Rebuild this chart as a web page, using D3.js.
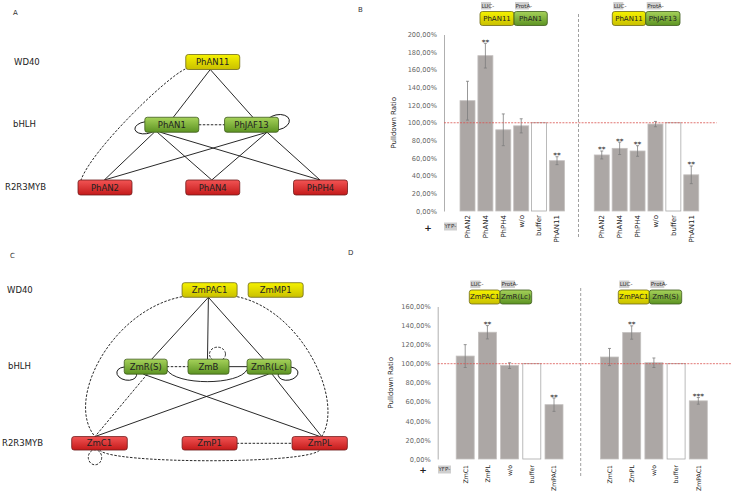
<!DOCTYPE html>
<html>
<head>
<meta charset="utf-8">
<script src="https://cdn.jsdelivr.net/npm/d3@7"></script>
<style>
  body { margin: 0; background: #fff; }
  text { font-family: "DejaVu Sans", sans-serif; }
</style>
</head>
<body>
<script>
// ---- data ----
// panel B (petunia pulldown)
const bLabels = ["PhAN2", "PhAN4", "PhPH4", "w/o", "buffer", "PhAN11"];
const bVals1 = [1.25, 1.76, 0.92, 0.965, 1.0, 0.57];
const bErr1  = [0.22, 0.14, 0.18, 0.08, 0, 0.045];
const bSig1  = ["", "**", "", "", "", "**"];
const bVals2 = [0.635, 0.71, 0.68, 0.985, 1.0, 0.41];
const bErr2  = [0.045, 0.07, 0.06, 0.03, 0, 0.10];
const bSig2  = ["**", "**", "**", "", "", "**"];
const bTicks = [0, 0.2, 0.4, 0.6, 0.8, 1.0, 1.2, 1.4, 1.6, 1.8, 2.0];

// panel D (maize pulldown)
const dLabels = ["ZmC1", "ZmPL", "w/o", "buffer", "ZmPAC1"];
const dVals1 = [1.08, 1.33, 0.98, 1.0, 0.57];
const dErr1  = [0.12, 0.07, 0.03, 0, 0.07];
const dSig1  = ["", "**", "", "", "**"];
const dVals2 = [1.07, 1.327, 1.01, 1.0, 0.61];
const dErr2  = [0.09, 0.07, 0.05, 0, 0.035];
const dSig2  = ["", "**", "", "", "***"];
const dTicks = [0, 0.2, 0.4, 0.6, 0.8, 1.0, 1.2, 1.4, 1.6];

// networks: tier 0 = WD40, 1 = bHLH, 2 = R2R3MYB; col = slot on the row
const tiers = ["WD40", "bHLH", "R2R3MYB"];
const aNodes = [
  { id: "PhAN11", tier: 0, col: 1, kind: "y" },
  { id: "PhAN1", tier: 1, col: 0.62, kind: "g" },
  { id: "PhJAF13", tier: 1, col: 1.36, kind: "g" },
  { id: "PhAN2", tier: 2, col: 0, kind: "r" },
  { id: "PhAN4", tier: 2, col: 1, kind: "r" },
  { id: "PhPH4", tier: 2, col: 2, kind: "r" }
];
const aEdges = [
  ["PhAN11", "PhAN1", "s"], ["PhAN11", "PhJAF13", "s"],
  ["PhAN1", "PhAN2", "s"], ["PhAN1", "PhAN4", "s"], ["PhAN1", "PhPH4", "s"],
  ["PhJAF13", "PhAN2", "s"], ["PhJAF13", "PhAN4", "s"], ["PhJAF13", "PhPH4", "s"]
];
const cNodes = [
  { id: "ZmPAC1", tier: 0, col: 1, kind: "y" },
  { id: "ZmMP1", tier: 0, col: 1.6, kind: "y" },
  { id: "ZmR(S)", tier: 1, col: 0.42, kind: "g" },
  { id: "ZmB", tier: 1, col: 0.99, kind: "g" },
  { id: "ZmR(Lc)", tier: 1, col: 1.54, kind: "g" },
  { id: "ZmC1", tier: 2, col: 0, kind: "r" },
  { id: "ZmP1", tier: 2, col: 1, kind: "r" },
  { id: "ZmPL", tier: 2, col: 2, kind: "r" }
];
const cEdges = [
  ["ZmPAC1", "ZmR(S)", "s"], ["ZmPAC1", "ZmB", "s"], ["ZmPAC1", "ZmR(Lc)", "s"],
  ["ZmR(S)", "ZmPL", "s"], ["ZmR(Lc)", "ZmC1", "s"], ["ZmR(Lc)", "ZmPL", "s"],
  ["ZmR(S)", "ZmC1", "d"]
];

const W = 731, H = 493;
const svg = d3.select("body").append("svg").attr("width", W).attr("height", H);
svg.append("rect").attr("width", W).attr("height", H).attr("fill", "#fff");

// gradients for the boxes
const defs = svg.append("defs");
const grads = { y: ["#f6f200", "#c9c000"], g: ["#a6d25a", "#5c9322"], r: ["#f25454", "#c41a1a"] };
const strokes = { y: "#6f6a18", g: "#3d5a1c", r: "#6e1c1c" };
Object.entries(grads).forEach(([k, c]) => {
  const g = defs.append("linearGradient").attr("id", "gr-" + k).attr("x1", 0).attr("y1", 0).attr("x2", 0).attr("y2", 1);
  g.append("stop").attr("offset", "0%").attr("stop-color", c[0]);
  g.append("stop").attr("offset", "100%").attr("stop-color", c[1]);
});

function box(g, cx, cy, w, h, kind, label, fs) {
  g.append("rect").attr("x", cx - w / 2).attr("y", cy - h / 2).attr("width", w).attr("height", h)
    .attr("rx", 2.5).attr("fill", "url(#gr-" + kind + ")").attr("stroke", strokes[kind]).attr("stroke-width", 0.8);
  g.append("text").attr("x", cx).attr("y", cy + 0.5).attr("text-anchor", "middle")
    .attr("dominant-baseline", "middle").attr("font-size", fs || 8.5).attr("fill", "#222").text(label);
}

// panel letters
[["A", 13, 15], ["B", 358, 12], ["C", 10, 258], ["D", 348, 255]].forEach(p => {
  svg.append("text").attr("x", p[1]).attr("y", p[2]).attr("font-size", 7).attr("fill", "#333").text(p[0]);
});

// ---- network drawing ----
function network(nodes, edges, opt) {
  const g = svg.append("g");
  const x = d3.scaleLinear().domain([0, 2]).range(opt.xr);
  const y = d3.scalePoint().domain([0, 1, 2]).range(opt.yr);
  const byId = {};
  nodes.forEach(n => { n.x = x(n.col); n.y = y(n.tier); byId[n.id] = n; });

  tiers.forEach((t, i) => {
    g.append("text").attr("x", opt.lx[i]).attr("y", y(i)).attr("dominant-baseline", "middle")
      .attr("font-size", 8.5).attr("fill", "#222").text(t);
  });

  const lines = g.append("g");
  edges.forEach(e => {
    const s = byId[e[0]], t = byId[e[1]];
    const so = (opt.off[e[0] + ">" + e[1]] || [0, 0]);
    lines.append("line")
      .attr("x1", s.x + so[0]).attr("y1", s.y + opt.h[s.tier] / 2)
      .attr("x2", t.x + so[1]).attr("y2", t.y - opt.h[t.tier] / 2)
      .attr("stroke", "#111").attr("stroke-width", 0.9)
      .attr("stroke-dasharray", e[2] === "d" ? "2.5,1.5" : null);
  });
  opt.extra(lines, byId);

  nodes.forEach(n => box(g, n.x, n.y, opt.w[n.id] || 54, opt.h[n.tier], n.kind, n.id));
  return byId;
}

function curve(g, d, dashed) {
  g.append("path").attr("d", d).attr("fill", "none").attr("stroke", "#111").attr("stroke-width", 0.9)
    .attr("stroke-dasharray", dashed ? "2.5,1.5" : null);
}
function loop(g, cx, cy, rx, ry, dashed, rot) {
  g.append("ellipse").attr("cx", cx).attr("cy", cy).attr("rx", rx).attr("ry", ry)
    .attr("transform", rot ? `rotate(${rot},${cx},${cy})` : null)
    .attr("fill", "none").attr("stroke", "#111").attr("stroke-width", 0.9)
    .attr("stroke-dasharray", dashed ? "2.5,1.5" : null);
}

// panel A
network(aNodes, aEdges, {
  xr: [105, 320.5], yr: [62, 187.5], lx: [14, 13, 5],
  h: [15, 15, 15], w: {},
  off: {
    "PhAN11>PhAN1": [-2.5, 1.5], "PhAN11>PhJAF13": [-2.5, 1.3],
    "PhAN1>PhAN2": [-17.5, -0.7], "PhAN1>PhAN4": [-14.5, -1], "PhAN1>PhPH4": [-11.5, -0.5],
    "PhJAF13>PhAN2": [15.5, -0.7], "PhJAF13>PhAN4": [15.5, -1], "PhJAF13>PhPH4": [15.5, -0.5]
  },
  extra: (g, n) => {
    const a1 = n["PhAN1"], j = n["PhJAF13"], p11 = n["PhAN11"], a2 = n["PhAN2"];
    g.append("line").attr("x1", a1.x + 27).attr("y1", a1.y).attr("x2", j.x - 27).attr("y2", j.y)
      .attr("stroke", "#111").attr("stroke-width", 0.9).attr("stroke-dasharray", "2.5,1.5");
    loop(g, a1.x - 26, a1.y + 3, 11, 6, false, -8);
    loop(g, j.x + 26, j.y - 2.5, 12, 7.5, false, -12);
    curve(g, `M${p11.x - 27.5},${p11.y + 7} C${p11.x - 47},${p11.y + 16} ${a2.x - 13},${a2.y - 38} ${a2.x - 24},${a2.y - 7.5}`, true);
  }
});

// panel C
network(cNodes, cEdges, {
  xr: [99.5, 319.7], yr: [290, 443.3], lx: [7, 8, 2],
  h: [14.6, 15, 13.5], w: { "ZmR(S)": 43, "ZmB": 41, "ZmR(Lc)": 44, "ZmMP1": 55, "ZmPAC1": 55, "ZmC1": 55.6, "ZmP1": 55, "ZmPL": 55.3 },
  off: {
    "ZmPAC1>ZmR(S)": [-1.2, 6], "ZmPAC1>ZmB": [-1.2, -1], "ZmPAC1>ZmR(Lc)": [-1.2, -5.5],
    "ZmR(S)>ZmPL": [-2.5, 0.3], "ZmR(Lc)>ZmC1": [-0.5, -4.5], "ZmR(Lc)>ZmPL": [3, 2],
    "ZmR(S)>ZmC1": [1.5, -4.5]
  },
  extra: (g, n) => {
    const pac = n["ZmPAC1"], rs = n["ZmR(S)"], zb = n["ZmB"], rl = n["ZmR(Lc)"];
    const c1 = n["ZmC1"], p1 = n["ZmP1"], pl = n["ZmPL"];
    g.append("line").attr("x1", rs.x + 21).attr("y1", rs.y).attr("x2", zb.x - 20).attr("y2", zb.y)
      .attr("stroke", "#111").attr("stroke-width", 0.9).attr("stroke-dasharray", "2.5,1.5");
    g.append("line").attr("x1", zb.x + 20).attr("y1", zb.y).attr("x2", rl.x - 22).attr("y2", rl.y)
      .attr("stroke", "#111").attr("stroke-width", 0.9);
    g.append("line").attr("x1", p1.x + 27).attr("y1", p1.y).attr("x2", pl.x - 27).attr("y2", pl.y)
      .attr("stroke", "#111").attr("stroke-width", 0.9).attr("stroke-dasharray", "2.5,1.5");
    loop(g, zb.x + 9, zb.y - 12.5, 8, 7, true, 0);
    loop(g, rs.x - 19, rs.y + 7, 10, 6.5, false, 10);
    loop(g, rl.x + 19, rl.y + 7, 10, 6.5, false, -10);
    loop(g, c1.x - 4.5, c1.y + 14, 6.7, 7.5, true, 0);
    curve(g, `M${rs.x + 21},${rs.y + 3} C${rs.x + 30},${rs.y + 19} ${rl.x - 30},${rl.y + 19} ${rl.x - 22},${rl.y + 3}`, false);
    curve(g, `M${c1.x},${c1.y + 6.7} C${c1.x + 10},${c1.y + 21} ${pl.x - 10},${pl.y + 21} ${pl.x},${pl.y + 6.7}`, true);
    curve(g, `M${pac.x - 27.5},${pac.y + 6.7} C${pac.x - 98},${pac.y + 20} ${c1.x - 35},${c1.y - 43} ${c1.x - 4.5},${c1.y - 6.7}`, true);
    curve(g, `M${pac.x + 27.5},${pac.y + 6.7} C${pac.x + 92},${pac.y + 20} ${pl.x + 25},${pl.y - 43} ${pl.x + 2},${pl.y - 6.7}`, true);
  }
});

// ---- bar charts ----
const pct = v => d3.format(".2f")(v * 100).replace(".", ",") + "%";

function barPanel(o) {
  const g = svg.append("g");
  const y = d3.scaleLinear().domain([0, o.ymax]).range([o.y0, o.ytop]);
  const x = d3.scaleLinear().domain([0, 1]).range([o.x0, o.x0 + o.step]);
  const n = o.labels.length;
  const gap = n + 1.5;

  // y axis
  const ax = g.append("g").attr("transform", `translate(${o.axisX},0)`)
    .call(d3.axisLeft(y).tickValues(o.ticks).tickFormat(pct).tickSize(0).tickPadding(7));
  ax.select(".domain").attr("stroke", "#9a9a9a").attr("stroke-width", 0.8);
  ax.selectAll("text").attr("font-family", "'Open Sans', sans-serif").attr("font-size", 6.6).attr("fill", "#666");

  g.append("text").attr("transform", `translate(${o.titleX},${(o.y0 + o.ytop) / 2}) rotate(-90)`)
    .attr("text-anchor", "middle").attr("font-size", 7).attr("fill", "#222")
    .attr("font-family", "'Open Sans', sans-serif").text("Pulldown Ratio");

  // divider
  g.append("line").attr("x1", o.divX).attr("x2", o.divX).attr("y1", o.divY[0]).attr("y2", o.divY[1])
    .attr("stroke", "#888").attr("stroke-width", 0.8).attr("stroke-dasharray", "3,2");

  const groups = [[o.v1, o.e1, o.s1, 0], [o.v2, o.e2, o.s2, gap]];
  groups.forEach(([vals, errs, sigs, off]) => {
    vals.forEach((v, i) => {
      const cx = x(i + off);
      const isBuf = o.labels[i] === "buffer";
      g.append("rect").attr("x", cx - o.bw / 2).attr("y", y(v)).attr("width", o.bw).attr("height", y(0) - y(v))
        .attr("fill", isBuf ? "#fff" : "#aca7a5").attr("stroke", isBuf ? "#a9a9a9" : "#c4c0bf").attr("stroke-width", 0.8);
      const e = errs[i];
      if (e > 0) {
        g.append("line").attr("x1", cx).attr("x2", cx).attr("y1", y(v + e)).attr("y2", y(v - e))
          .attr("stroke", "#7d7d7d").attr("stroke-width", 0.8);
        [v + e, v - e].forEach(t => g.append("line").attr("x1", cx - 1.5).attr("x2", cx + 1.5)
          .attr("y1", y(t)).attr("y2", y(t)).attr("stroke", "#7d7d7d").attr("stroke-width", 0.8));
      }
      if (sigs[i]) {
        g.append("text").attr("x", cx).attr("y", y(v + e) + 1.5).attr("text-anchor", "middle")
          .attr("font-size", 7.5).attr("fill", "#222").text(sigs[i]);
      }
      g.append("text").attr("transform", `translate(${cx + 2.3},${o.labY}) rotate(-90)`)
        .attr("text-anchor", "end").attr("font-size", o.labFs).attr("fill", "#222").text(o.labels[i]);
    });
  });

  // 100% reference line
  g.append("line").attr("x1", o.axisX).attr("x2", o.refEnd).attr("y1", y(1)).attr("y2", y(1))
    .attr("stroke", "#d9534f").attr("stroke-width", 0.8).attr("stroke-dasharray", "2,1.2");

  // "+ YFP-" row
  g.append("text").attr("x", o.plus[0]).attr("y", o.plus[1]).attr("text-anchor", "middle")
    .attr("font-size", 9).attr("font-weight", "bold").attr("fill", "#222").text("+");
  tag(g, o.yfp[0], o.yfp[1], 13, 8, "YFP-");

  // construct legends above the groups
  o.legends.forEach(L => {
    tag(g, L.x + 1, L.y - 9.5, 10, 7.5, "LUC-");
    tag(g, L.x + L.w + 1, L.y - 9.5, 14, 7.5, "ProtA-");
    box(g, L.x + L.w / 2, L.y + 7, L.w, 14, "y", L.a, 7);
    box(g, L.x + L.w + L.w2 / 2, L.y + 7, L.w2, 14, "g", L.b, 7);
  });
}

function tag(g, x, y, w, h, label) {
  g.append("rect").attr("x", x).attr("y", y).attr("width", w).attr("height", h).attr("fill", "#cfcfcf");
  g.append("text").attr("x", x + 0.5).attr("y", y + h / 2 + 0.3).attr("dominant-baseline", "middle")
    .attr("font-size", 5.5).attr("fill", "#333").text(label);
}

barPanel({
  labels: bLabels, v1: bVals1, e1: bErr1, s1: bSig1, v2: bVals2, e2: bErr2, s2: bSig2,
  ticks: bTicks, ymax: 2, y0: 211, ytop: 34.5, x0: 467.5, step: 17.9, bw: 15,
  axisX: 444, titleX: 396, divX: 578.5, divY: [14, 238], labY: 215, labFs: 7, refEnd: 716.5,
  plus: [428, 230.5], yfp: [444, 222.5],
  legends: [{ x: 480, y: 11.5, w: 34, w2: 33.3, a: "PhAN11", b: "PhAN1" },
            { x: 612.3, y: 11.5, w: 33.4, w2: 34.3, a: "PhAN11", b: "PhJAF13" }]
});

barPanel({
  labels: dLabels, v1: dVals1, e1: dErr1, s1: dSig1, v2: dVals2, e2: dErr2, s2: dSig2,
  ticks: dTicks, ymax: 1.6, y0: 459, ytop: 306.5, x0: 465.2, step: 22.2, bw: 18,
  axisX: 437.7, titleX: 393, divX: 580.7, divY: [288, 478], labY: 465, labFs: 6.2, refEnd: 731,
  plus: [423, 472.5], yfp: [438, 465.5],
  legends: [{ x: 469.3, y: 290, w: 30.7, w2: 31.7, a: "ZmPAC1", b: "ZmR(Lc)" },
            { x: 618.3, y: 290, w: 31, w2: 32.4, a: "ZmPAC1", b: "ZmR(S)" }]
});
</script>
</body>
</html>
